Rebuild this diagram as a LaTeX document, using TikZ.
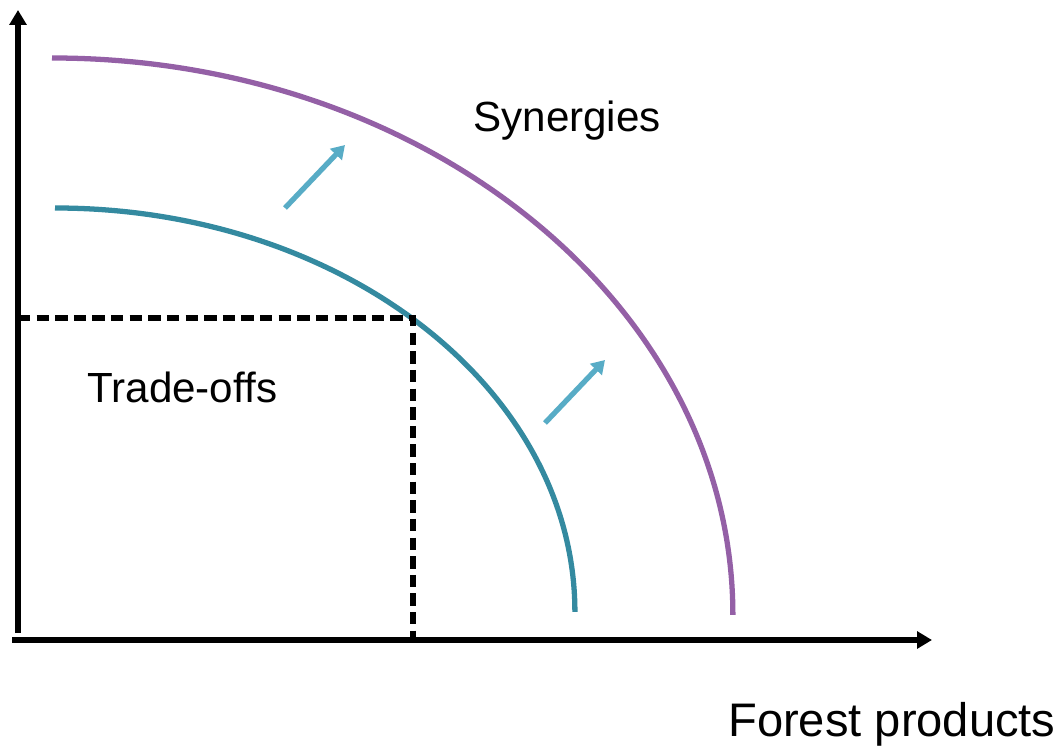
\documentclass[tikz,border=0pt]{standalone}
\usepackage{fontspec}
\setmainfont{Liberation Sans}
\usetikzlibrary{arrows.meta}

\definecolor{synpurple}{RGB}{148,96,166}
\definecolor{tradeteal}{RGB}{52,138,160}
\definecolor{shiftblue}{RGB}{88,172,198}

\tikzset{
  axisline/.style={line width=3.6pt, draw=black, -{Triangle[width=9.5pt,length=8.5pt]}},
  frontier/.style={line width=3pt},
  shiftarrow/.style={line width=3pt, draw=shiftblue, -{Triangle[width=9pt,length=7.5pt]}},
  guideline/.style={line width=3.2pt, dash pattern=on 7pt off 3.6pt},
  label/.style={font=\fontsize{24}{28}\selectfont, anchor=base west, inner sep=0pt}
}

\begin{document}
\begin{tikzpicture}[x=0.02cm, y=-0.02cm]
    % Frontier shift sketch
    \useasboundingbox (0,0) rectangle (1061,749);

    % axes
    \coordinate (ybottom) at (18,633);
    \coordinate (ytop) at (18,10);
    \coordinate (xleft) at (12,640);
    \coordinate (xright) at (932,640);
    \draw[axisline] (ybottom) -- (ytop);
    \draw[axisline] (xleft) -- (xright);

    % frontiers
    \coordinate (outerstart) at (52,58);
    \coordinate (innerstart) at (55,208);
    \draw[frontier, draw=synpurple] (outerstart) arc[start angle=90, end angle=0, x radius=13.62cm, y radius=11.14cm];
    \draw[frontier, draw=tradeteal] (innerstart) arc[start angle=90, end angle=0, x radius=10.4cm, y radius=8.08cm];

    % dashed guides to the inner frontier
    \coordinate (kink) at (413,318);
    \coordinate (yguide) at (18,318);
    \coordinate (xguide) at (413,640);
    \draw[guideline] (yguide) -- (kink) -- (xguide);

    % outward shift arrows
    \coordinate (shiftAfrom) at (285,208);
    \coordinate (shiftAto) at (345,145);
    \coordinate (shiftBfrom) at (545,423);
    \coordinate (shiftBto) at (605,360);
    \draw[shiftarrow] (shiftAfrom) -- (shiftAto);
    \draw[shiftarrow] (shiftBfrom) -- (shiftBto);

    % labels
    \node[label] (synergies) at (473,132) {Synergies};
    \node[label] (tradeoffs) at (87,403) {Trade-offs};
    \node[label, font=\fontsize{26.8}{30}\selectfont] (xlabel) at (728,736) {Forest products};
\end{tikzpicture}
\end{document}
